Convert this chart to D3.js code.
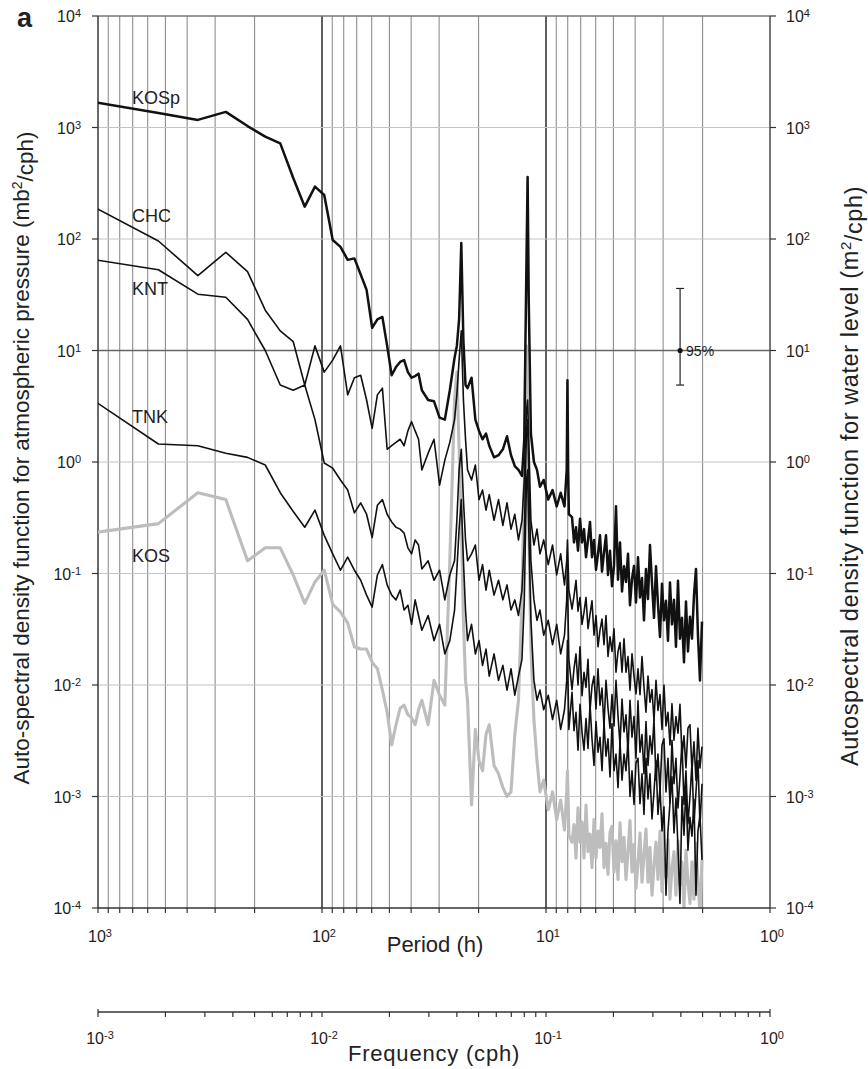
<!DOCTYPE html>
<html>
<head>
<meta charset="utf-8">
<script src="https://cdn.jsdelivr.net/npm/d3@7"></script>
<style>
  body { margin: 0; background: #fff; }
  text { font-family: "Liberation Sans", Arial, sans-serif; fill: #222; }
</style>
</head>
<body>
<svg id="chart"></svg>
<script>
// period (h) of each spectral estimate, shared by all stations
const periods = [
  1075, 537.5, 358.3, 268.8, 215, 179.2, 153.6, 134.4, 119.4, 107.5,
  97.73, 89.58, 82.69, 76.79, 71.67, 67.19, 63.24, 59.72, 56.58, 53.75,
  51.19, 48.86, 46.74, 44.79, 43, 41.35, 39.81, 38.39, 37.07, 35.83,
  33.59, 31.62, 29.86, 28.29, 26.88, 25.6, 25, 24.43, 23.89, 23.37,
  22.87, 22.4, 21.5, 20.67, 19.91, 19.2, 18.53, 17.92, 17.06, 16.29,
  15.58, 14.93, 14.33, 13.78, 13.27, 12.8, 12.5, 12.36, 12.22, 12.08,
  11.94, 11.68, 11.32, 10.97, 10.64, 10.24, 9.773, 9.348, 8.958, 8.6,
  8.269, 8.083, 8.022, 7.963, 7.904,
  7.654, 7.498, 7.346, 7.196, 7.050, 6.906, 6.766, 6.628, 6.493, 6.361,
  6.232, 6.105, 5.981, 5.859, 5.740, 5.623, 5.509, 5.397, 5.287, 5.179,
  5.074, 4.971, 4.870, 4.770, 4.673, 4.578, 4.485, 4.394, 4.304, 4.217,
  4.131, 4.047, 3.965, 3.884, 3.805, 3.728, 3.652, 3.578, 3.505, 3.434,
  3.364, 3.295, 3.228, 3.163, 3.098, 3.035, 2.974, 2.913, 2.854, 2.796,
  2.739, 2.683, 2.629, 2.575, 2.523, 2.471, 2.421, 2.372, 2.324, 2.276,
  2.230, 2.185, 2.140, 2.097, 2.054, 2.012
];

// KOSp: atmospheric pressure (mb^2/cph)
const kosp = [
  1710, 1350, 1170, 1380, 1030, 828, 720, 352, 195, 295,
  248, 98, 85, 65, 67, 48, 35, 16, 19, 20,
  11, 6.0, 7.1, 7.9, 8.2, 6.4, 5.7, 5.9, 6.2, 4.4,
  3.6, 3.5, 2.5, 2.4, 4.4, 8.6, 11, 19, 92, 12,
  4.9, 4.6, 5.7, 2.4, 1.9, 1.6, 1.8, 1.4, 1.1, 1.15,
  1.3, 1.7, 1.15, 0.92, 0.85, 0.75, 1.6, 11, 65, 360,
  28, 1.8, 1.0, 0.85, 0.60, 0.69, 0.46, 0.56, 0.40, 0.53,
  0.40, 0.85, 5.4, 0.85, 0.34,
  0.32, 0.19, 0.26, 0.16, 0.31, 0.19, 0.25, 0.14, 0.20, 0.29,
  0.14, 0.20, 0.108, 0.15, 0.22, 0.104, 0.155, 0.22, 0.097, 0.16,
  0.077, 0.117, 0.40, 0.088, 0.19, 0.069, 0.116, 0.084, 0.15, 0.052,
  0.090, 0.117, 0.055, 0.14, 0.061, 0.091, 0.038, 0.110, 0.059, 0.18,
  0.082, 0.040, 0.116, 0.053, 0.027, 0.081, 0.038, 0.057, 0.025, 0.083,
  0.035, 0.058, 0.022, 0.086, 0.026, 0.040, 0.016, 0.056, 0.020, 0.041,
  0.026, 0.063, 0.11, 0.028, 0.011, 0.037
];

// water level stations (m^2/cph)
const chc = [
  200, 96, 47, 76, 51, 23, 15, 12, 4.9, 11,
  6.4, 8.2, 11, 4.0, 5.7, 6.0, 3.6, 2.0, 4.0, 4.6,
  1.3, 1.4, 1.5, 1.6, 1.4, 1.9, 2.3, 1.9, 1.6, 0.85,
  1.2, 1.6, 0.62, 1.04, 1.5, 2.4, 4.0, 8.2, 15, 3.6,
  1.6, 0.85, 0.69, 0.94, 0.46, 0.56, 0.37, 0.51, 0.30, 0.46,
  0.27, 0.43, 0.25, 0.34, 0.20, 0.30, 0.69, 1.6, 2.9, 3.6,
  1.6, 0.30, 0.18, 0.25, 0.15, 0.20, 0.12, 0.18, 0.097, 0.15,
  0.079, 0.13, 0.20, 0.12, 0.071,
  0.048, 0.063, 0.087, 0.046, 0.061, 0.035, 0.045, 0.061, 0.032, 0.043,
  0.057, 0.028, 0.042, 0.022, 0.031, 0.039, 0.023, 0.042, 0.018, 0.027,
  0.020, 0.032, 0.013, 0.020, 0.024, 0.013, 0.026, 0.013, 0.018, 0.0090,
  0.019, 0.012, 0.0083, 0.014, 0.0082, 0.018, 0.0096, 0.0057, 0.012, 0.0070,
  0.0091, 0.0048, 0.011, 0.0059, 0.0082, 0.0040, 0.010, 0.0043, 0.0057, 0.0029,
  0.0068, 0.0032, 0.0052, 0.0037, 0.0067, 0.0023, 0.0035, 0.0018, 0.0041, 0.0044,
  0.0017, 0.0031, 0.0014, 0.0041, 0.0018, 0.0028
];

const knt = [
  66, 53, 32, 30, 19, 10, 4.9, 4.4, 4.9, 2.4,
  0.98, 0.88, 0.69, 0.56, 0.35, 0.43, 0.34, 0.21, 0.41, 0.46,
  0.34, 0.29, 0.26, 0.25, 0.23, 0.17, 0.15, 0.20, 0.18, 0.11,
  0.13, 0.087, 0.107, 0.058, 0.097, 0.13, 0.30, 0.85, 1.3, 0.46,
  0.20, 0.13, 0.15, 0.18, 0.087, 0.12, 0.071, 0.107, 0.064, 0.087,
  0.058, 0.079, 0.047, 0.058, 0.042, 0.071, 0.20, 0.69, 1.9, 2.4,
  0.85, 0.13, 0.058, 0.038, 0.047, 0.028, 0.038, 0.023, 0.035, 0.019,
  0.028, 0.058, 0.13, 0.038, 0.017,
  0.0091, 0.014, 0.019, 0.010, 0.022, 0.0080, 0.013, 0.0095, 0.017, 0.0059,
  0.0098, 0.012, 0.0061, 0.014, 0.0066, 0.0094, 0.0042, 0.011, 0.0062, 0.0041,
  0.0082, 0.0043, 0.011, 0.0053, 0.0029, 0.0075, 0.0038, 0.0054, 0.0025, 0.0073,
  0.0034, 0.0052, 0.0022, 0.0072, 0.0025, 0.0036, 0.0016, 0.0047, 0.0019, 0.0035,
  0.0024, 0.0049, 0.0014, 0.0024, 0.0011, 0.0029, 0.0033, 0.0011, 0.0022, 0.00087,
  0.0032, 0.0013, 0.0022, 0.00079, 0.0015, 0.0031, 0.00085, 0.0017, 0.00057, 0.0010,
  0.0020, 0.00058, 0.0011, 0.0021, 0.00054, 0.0013
];

const tnk = [
  3.7, 1.45, 1.4, 1.2, 1.1, 0.94, 0.53, 0.36, 0.26, 0.37,
  0.22, 0.15, 0.107, 0.14, 0.107, 0.087, 0.064, 0.050, 0.097, 0.12,
  0.079, 0.064, 0.058, 0.071, 0.047, 0.052, 0.035, 0.058, 0.042, 0.031,
  0.042, 0.025, 0.035, 0.019, 0.025, 0.047, 0.107, 0.25, 0.46, 0.13,
  0.047, 0.025, 0.035, 0.019, 0.025, 0.015, 0.021, 0.012, 0.019, 0.011,
  0.015, 0.0090, 0.014, 0.0081, 0.012, 0.017, 0.058, 0.20, 0.69, 0.85,
  0.25, 0.038, 0.011, 0.0073, 0.0090, 0.0060, 0.0081, 0.0049, 0.0073, 0.0040,
  0.0060, 0.011, 0.025, 0.0090, 0.0040,
  0.0086, 0.0039, 0.0057, 0.0026, 0.0067, 0.0038, 0.0026, 0.0050, 0.0027, 0.0067,
  0.0033, 0.0019, 0.0047, 0.0025, 0.0034, 0.0017, 0.0046, 0.0023, 0.0033, 0.0015,
  0.0045, 0.0017, 0.0024, 0.0012, 0.0031, 0.0014, 0.0024, 0.0017, 0.0032, 0.0010,
  0.0017, 0.00085, 0.0020, 0.0022, 0.00086, 0.0016, 0.00069, 0.0022, 0.00095, 0.0016,
  0.00063, 0.0011, 0.0021, 0.00069, 0.0012, 0.00049, 0.00081, 0.00013, 0.00049, 0.00088,
  0.0015, 0.00047, 0.00097, 0.00035, 0.00011, 0.0010, 0.00045, 0.0012, 0.00033, 0.00065,
  0.00044, 0.00094, 0.00013, 0.00049, 0.00068, 0.00027
];

const kos = [
  0.23, 0.28, 0.53, 0.46, 0.13, 0.17, 0.17, 0.097, 0.054, 0.084,
  0.107, 0.053, 0.045, 0.036, 0.022, 0.021, 0.021, 0.016, 0.014, 0.0090,
  0.0057, 0.0029, 0.0044, 0.0062, 0.0066, 0.0054, 0.0051, 0.0044, 0.0060, 0.0073,
  0.0044, 0.011, 0.0081, 0.0066, 0.13, 3.6, 6.4, 1.3, 0.30, 0.038,
  0.011, 0.0073, 0.00084, 0.0040, 0.0021, 0.0017, 0.0036, 0.0044, 0.0019, 0.0016,
  0.0012, 0.0010, 0.0011, 0.0036, 0.0073, 0.058, 0.69, 5.4, 11, 3.6,
  0.30, 0.021, 0.0049, 0.0021, 0.0011, 0.0014, 0.00076, 0.0011, 0.00062, 0.00093,
  0.00050, 0.0011, 0.0017, 0.00093, 0.00045,
  0.00039, 0.00056, 0.00028, 0.00079, 0.00039, 0.00059, 0.00028, 0.00084, 0.00032, 0.00046,
  0.00023, 0.00062, 0.00028, 0.00049, 0.00035, 0.00070, 0.00023, 0.00038, 0.00020, 0.00048,
  0.00054, 0.00021, 0.00040, 0.00018, 0.00058, 0.00026, 0.00043, 0.00018, 0.00032, 0.00061,
  0.00021, 0.00037, 0.00015, 0.00026, 0.00047, 0.00017, 0.00030, 0.00051, 0.00017, 0.00035,
  0.00013, 0.00024, 0.00039, 0.00018, 0.00049, 0.00014, 0.00028, 0.00019, 0.00041, 0.00012,
  0.00023, 0.00032, 0.00013, 0.00040, 0.00016, 0.00026, 0.00010, 0.00033, 0.00017, 0.00011,
  0.00026, 0.00012, 0.00038, 0.00017, 0.000089, 0.00027
];

const stationNames = ["KOSp", "CHC", "KNT", "TNK", "KOS"];
const yTickExps = ["4", "3", "2", "1", "0", "-1", "-2", "-3", "-4"];
const periodTickExps = ["3", "2", "1", "0"];
const freqTickExps = ["-3", "-2", "-1", "0"];
// 95% confidence interval marker
const ciPeriod = 2.52, ciLow = 4.9, ciMid = 10, ciHigh = 36;

const width = 868, height = 1069;
const plotL = 98, plotR = 770, plotT = 16, plotB = 908;

const svg = d3.select("#chart").attr("width", width).attr("height", height);
svg.append("rect").attr("width", width).attr("height", height).attr("fill", "#fff");

const x = d3.scaleLog().domain([1000, 1]).range([plotL, plotR]);
const y = d3.scaleLog().domain([1e-4, 1e4]).range([plotB, plotT]);
const xf = d3.scaleLog().domain([1e-3, 1]).range([plotL, plotR]);

// grid values: every integer multiple inside each decade of period
const gridPeriods = [];
[100, 10, 1].forEach(d => { for (let m = 1; m <= 9; m++) gridPeriods.push(m * d); });
gridPeriods.push(1000);
const decades = yTickExps.map(e => Math.pow(10, +e));

const grid = svg.append("g");
grid.selectAll("line.v")
  .data(gridPeriods.filter(p => p !== 1000 && p !== 1))
  .enter().append("line")
  .attr("x1", d => x(d)).attr("x2", d => x(d))
  .attr("y1", plotT).attr("y2", plotB)
  .attr("stroke", d => (d === 100 || d === 10) ? "#444" : "#8e8e8e")
  .attr("stroke-width", d => (d === 100 || d === 10) ? 1.7 : 1.1);

grid.selectAll("line.h")
  .data(decades.filter(v => v < 1e4 && v > 1e-4))
  .enter().append("line")
  .attr("x1", plotL).attr("x2", plotR)
  .attr("y1", d => y(d)).attr("y2", d => y(d))
  .attr("stroke", d => d === 10 ? "#666" : "#c4c4c4")
  .attr("stroke-width", d => d === 10 ? 1.3 : 1);

// frame
svg.append("line").attr("x1", plotL).attr("x2", plotR).attr("y1", plotT).attr("y2", plotT)
  .attr("stroke", "#777").attr("stroke-width", 1.5);
svg.append("line").attr("x1", plotL).attr("x2", plotL).attr("y1", plotT).attr("y2", plotB)
  .attr("stroke", "#444").attr("stroke-width", 1.6);
svg.append("line").attr("x1", plotR).attr("x2", plotR).attr("y1", plotT).attr("y2", plotB)
  .attr("stroke", "#555").attr("stroke-width", 1.6);

// spectra
svg.append("clipPath").attr("id", "plot-clip")
  .append("rect").attr("x", plotL).attr("y", plotT)
  .attr("width", plotR - plotL).attr("height", plotB - plotT);

const line = d3.line()
  .x((d, i) => x(periods[i]))
  .y(d => y(d));

const plot = svg.append("g").attr("clip-path", "url(#plot-clip)");
plot.append("path").datum(kos).attr("d", line)
  .attr("fill", "none").attr("stroke", "#bdbdbd").attr("stroke-width", 3.1)
  .attr("stroke-linejoin", "round");
[tnk, knt, chc].forEach(s => {
  plot.append("path").datum(s).attr("d", line)
    .attr("fill", "none").attr("stroke", "#111").attr("stroke-width", 1.6)
    .attr("stroke-linejoin", "round");
});
plot.append("path").datum(kosp).attr("d", line)
  .attr("fill", "none").attr("stroke", "#111").attr("stroke-width", 2.5)
  .attr("stroke-linejoin", "round");

// bottom axis line + ticks (period)
svg.append("line").attr("x1", plotL).attr("x2", plotR).attr("y1", plotB).attr("y2", plotB)
  .attr("stroke", "#333").attr("stroke-width", 1.6);
svg.append("g").selectAll("line")
  .data(gridPeriods).enter().append("line")
  .attr("x1", d => x(d)).attr("x2", d => x(d))
  .attr("y1", plotB).attr("y2", plotB + 5)
  .attr("stroke", "#333").attr("stroke-width", 1.2);

// y ticks both sides
const yt = svg.append("g");
decades.forEach(v => {
  yt.append("line").attr("x1", plotL - 6).attr("x2", plotL).attr("y1", y(v)).attr("y2", y(v))
    .attr("stroke", "#333").attr("stroke-width", 1.2);
  yt.append("line").attr("x1", plotR).attr("x2", plotR + 6).attr("y1", y(v)).attr("y2", y(v))
    .attr("stroke", "#333").attr("stroke-width", 1.2);
});

function powLabel(g, px, py, exp, anchor) {
  const t = g.append("text").attr("x", px).attr("y", py)
    .attr("text-anchor", anchor).attr("font-size", 16).attr("fill", "#333").text("10");
  t.append("tspan").attr("dy", "-0.45em").attr("font-size", 11).text(exp);
}

const labels = svg.append("g");
yTickExps.forEach(e => {
  const v = Math.pow(10, +e);
  powLabel(labels, plotL - 17, y(v) + 6, e, "end");
  powLabel(labels, plotR + 16, y(v) + 6, e, "start");
});
periodTickExps.forEach(e => {
  powLabel(labels, x(Math.pow(10, +e)) + 2, plotB + 34, e, "middle");
});

// frequency axis
const fy = 1012;
svg.append("line").attr("x1", plotL).attr("x2", plotR).attr("y1", fy).attr("y2", fy)
  .attr("stroke", "#333").attr("stroke-width", 1.4);
const freqTicks = [];
[0.001, 0.01, 0.1].forEach(d => { for (let m = 1; m <= 9; m++) freqTicks.push(m * d); });
freqTicks.push(1);
svg.append("g").selectAll("line")
  .data(freqTicks).enter().append("line")
  .attr("x1", d => xf(d)).attr("x2", d => xf(d))
  .attr("y1", (d, i) => (i === 0 || i === freqTicks.length - 1) ? fy - 3 : fy)
  .attr("y2", fy + 5)
  .attr("stroke", "#333").attr("stroke-width", 1.2);
freqTickExps.forEach(e => {
  powLabel(labels, xf(Math.pow(10, +e)) + 2, fy + 32, e, "middle");
});

// axis titles
svg.append("text").attr("x", 435).attr("y", 952)
  .attr("text-anchor", "middle").attr("font-size", 22).text("Period (h)");
svg.append("text").attr("x", 434).attr("y", 1061)
  .attr("text-anchor", "middle").attr("font-size", 22).attr("letter-spacing", 0.8)
  .text("Frequency (cph)");

const lt = svg.append("text").attr("transform", "translate(29,458) rotate(-90)")
  .attr("text-anchor", "middle").attr("font-size", 22.5)
  .text("Auto-spectral density function for atmospheric pressure (mb");
lt.append("tspan").attr("dy", "-0.5em").attr("font-size", 14).text("2");
lt.append("tspan").attr("dy", "0.5em").text("/cph)");

const rt = svg.append("text").attr("transform", "translate(858,476) rotate(-90)")
  .attr("text-anchor", "middle").attr("font-size", 23.5).attr("letter-spacing", 0.6)
  .text("Autospectral density function for water level (m");
rt.append("tspan").attr("dy", "-0.5em").attr("font-size", 15).text("2");
rt.append("tspan").attr("dy", "0.5em").text("/cph)");

// panel letter
svg.append("text").attr("x", 17).attr("y", 27)
  .attr("font-size", 27).attr("font-weight", "bold").attr("fill", "#111").text("a");

// station labels
const labelValues = [1630, 142, 31.5, 2.24, 0.127];
stationNames.forEach((n, i) => {
  svg.append("text").attr("x", x(705)).attr("y", y(labelValues[i]))
    .attr("font-size", 18).text(n);
});

// confidence interval
const ci = svg.append("g");
const cx = x(ciPeriod);
ci.append("line").attr("x1", cx).attr("x2", cx).attr("y1", y(ciHigh)).attr("y2", y(ciLow))
  .attr("stroke", "#222").attr("stroke-width", 1.2);
[ciHigh, ciLow].forEach(v => {
  ci.append("line").attr("x1", cx - 4).attr("x2", cx + 4).attr("y1", y(v)).attr("y2", y(v))
    .attr("stroke", "#222").attr("stroke-width", 1.2);
});
ci.append("circle").attr("cx", cx).attr("cy", y(ciMid)).attr("r", 2.6).attr("fill", "#111");
ci.append("text").attr("x", cx + 6).attr("y", y(ciMid) + 5).attr("font-size", 14).text("95%");
</script>
</body>
</html>
